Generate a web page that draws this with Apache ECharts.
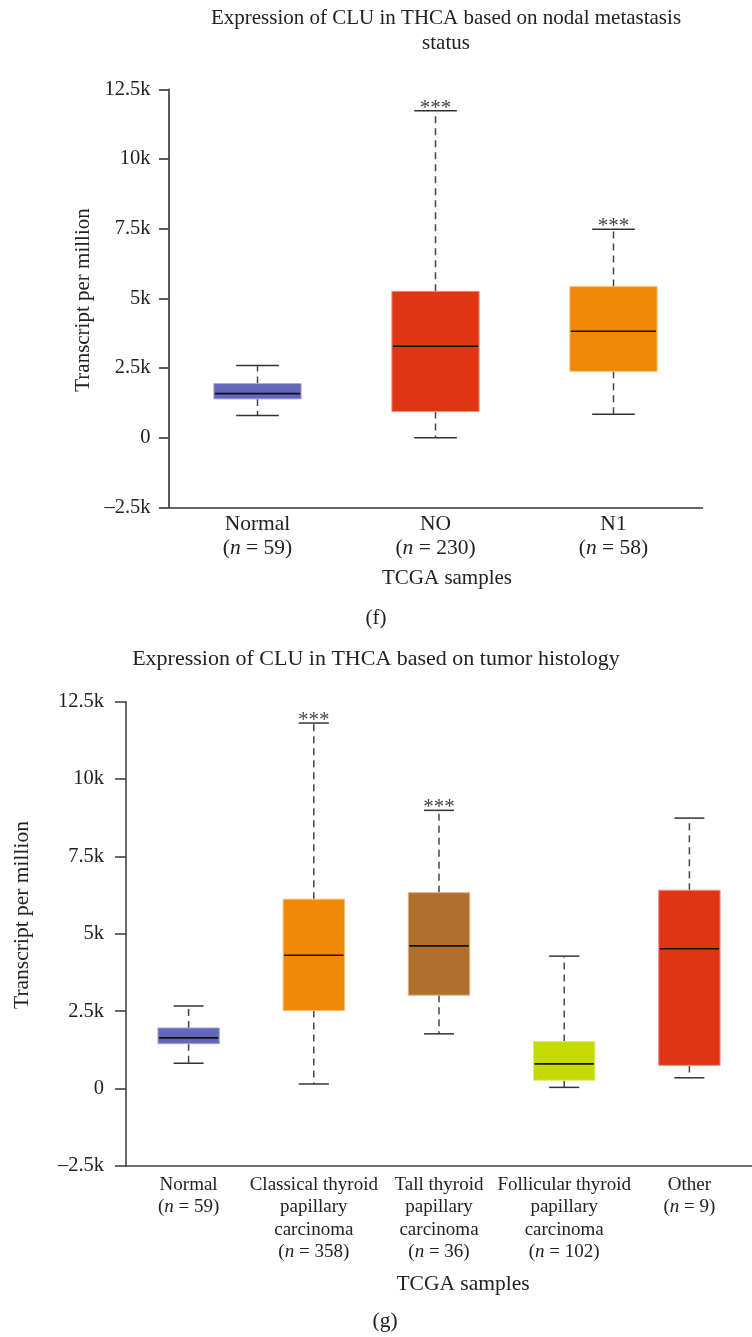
<!DOCTYPE html>
<html>
<head>
<meta charset="utf-8">
<script src="https://cdn.jsdelivr.net/npm/echarts@6/dist/echarts.min.js"></script>
<style>
html,body{margin:0;padding:0;background:#fff;}
#main{width:752px;height:1337px;}
</style>
</head>
<body>
<div id="main"></div>
<script>
// ---- Panel (f): nodal metastasis status ----
const catsF = ['Normal', 'NO', 'N1'];
const nF = [59, 230, 58];
const minF = [790, 0, 840];
const q1F = [1390, 940, 2380];
const medF = [1580, 3280, 3820];
const q3F = [1940, 5250, 5420];
const maxF = [2590, 11730, 7480];
const sigF = ['', '***', '***'];
const colorsF = ['#6367B9', '#E03415', '#EE8805'];

// ---- Panel (g): tumor histology ----
const catsG = ['Normal', 'Classical thyroid\npapillary\ncarcinoma', 'Tall thyroid\npapillary\ncarcinoma', 'Follicular thyroid\npapillary\ncarcinoma', 'Other'];
const nG = [59, 358, 36, 102, 9];
const minG = [820, 150, 1770, 40, 350];
const q1G = [1450, 2520, 3020, 270, 750];
const medG = [1640, 4310, 4610, 800, 4520];
const q3G = [1960, 6120, 6330, 1520, 6410];
const maxG = [2670, 11810, 8990, 4280, 8740];
const sigG = ['', '***', '***', '', ''];
const colorsG = ['#6367B9', '#EE8805', '#B06F2C', '#C5DA00', '#E03515'];

const FONT = '"Liberation Serif", "DejaVu Serif", serif';
const TXT = '#222';

function lighten(hex, t) {
  const r = parseInt(hex.slice(1, 3), 16), g = parseInt(hex.slice(3, 5), 16), b = parseInt(hex.slice(5, 7), 16);
  const f = v => Math.round(v + (255 - v) * t);
  return 'rgb(' + f(r) + ',' + f(g) + ',' + f(b) + ')';
}

function buildData(mins, q1s, meds, q3s, maxs) {
  return mins.map((_, i) => [i, mins[i], q1s[i], meds[i], q3s[i], maxs[i]]);
}

function makeRender(colors, sigs, starSize) {
  return function (params, api) {
    const idx = api.value(0);
    const band = api.size([1, 0])[0];
    const boxW = band * 0.49;
    const capW = band * 0.24;
    const pMin = api.coord([idx, api.value(1)]);
    const pQ1 = api.coord([idx, api.value(2)]);
    const pMed = api.coord([idx, api.value(3)]);
    const pQ3 = api.coord([idx, api.value(4)]);
    const pMax = api.coord([idx, api.value(5)]);
    const x = pMed[0];
    const dashStyle = { stroke: '#444', lineWidth: 1.5, lineDash: [7, 5] };
    const solid = { stroke: '#333', lineWidth: 1.5 };
    const children = [
      { type: 'line', shape: { x1: x, y1: pQ3[1], x2: x, y2: pMax[1] }, style: dashStyle },
      { type: 'line', shape: { x1: x, y1: pQ1[1], x2: x, y2: pMin[1] }, style: dashStyle },
      { type: 'line', shape: { x1: x - capW / 2, y1: pMax[1], x2: x + capW / 2, y2: pMax[1] }, style: solid },
      { type: 'line', shape: { x1: x - capW / 2, y1: pMin[1], x2: x + capW / 2, y2: pMin[1] }, style: solid },
      { type: 'rect', shape: { x: x - boxW / 2, y: pQ3[1], width: boxW, height: pQ1[1] - pQ3[1] },
        style: { fill: colors[idx], stroke: lighten(colors[idx], 0.45), lineWidth: 1 } },
      { type: 'line', shape: { x1: x - boxW / 2 + 1, y1: pMed[1], x2: x + boxW / 2 - 1, y2: pMed[1] },
        style: { stroke: '#111', lineWidth: 1.6 } }
    ];
    if (sigs[idx]) {
      children.push({ type: 'text', x: x, y: pMax[1] + 8,
        style: { text: sigs[idx], fill: '#444', font: starSize + 'px ' + FONT, align: 'center', verticalAlign: 'bottom' } });
    }
    return { type: 'group', children: children };
  };
}

function yLabel(v) {
  if (v === 0) return '0';
  const s = Math.abs(v) / 1000 + 'k';
  return v < 0 ? '\u2013' + s : s;
}

function catLabel(ns) {
  return function (val, idx) {
    return val + '\n({i|n} = ' + ns[idx] + ')';
  };
}

const chart = echarts.init(document.getElementById('main'), null, { renderer: 'canvas' });

const axisLineStyle = { color: '#333', width: 1.6 };

const option = {
  backgroundColor: '#fff',
  animation: false,
  grid: [
    { left: 168.5, top: 89.3, width: 534, height: 418 },
    { left: 126, top: 701.7, width: 636, height: 464.3 }
  ],
  xAxis: [
    {
      gridIndex: 0, type: 'category', data: catsF, boundaryGap: true,
      axisLine: { onZero: false, lineStyle: axisLineStyle }, axisTick: { show: false },
      axisLabel: { interval: 0, margin: 5, color: TXT, fontFamily: FONT, fontSize: 21.5, lineHeight: 24,
        formatter: catLabel(nF),
        rich: { i: { fontStyle: 'italic', fontFamily: FONT, fontSize: 21.5, lineHeight: 24, color: TXT } } }
    },
    {
      gridIndex: 1, type: 'category', data: catsG, boundaryGap: true,
      axisLine: { onZero: false, lineStyle: { color: '#444', width: 1.6 } }, axisTick: { show: false },
      axisLabel: { interval: 0, margin: 8, color: TXT, fontFamily: FONT, fontSize: 19, lineHeight: 22.3,
        formatter: catLabel(nG),
        rich: { i: { fontStyle: 'italic', fontFamily: FONT, fontSize: 19, lineHeight: 22.3, color: TXT } } }
    }
  ],
  yAxis: [
    {
      gridIndex: 0, type: 'value', min: -2500, max: 12500, interval: 2500,
      splitLine: { show: false },
      axisLine: { show: true, onZero: false, lineStyle: axisLineStyle },
      axisTick: { show: true, length: 9.5, lineStyle: axisLineStyle },
      axisLabel: { margin: 18, color: TXT, fontFamily: FONT, fontSize: 20.5, formatter: yLabel }
    },
    {
      gridIndex: 1, type: 'value', min: -2500, max: 12500, interval: 2500,
      splitLine: { show: false },
      axisLine: { show: true, onZero: false, lineStyle: { color: '#444', width: 1.6 } },
      axisTick: { show: true, length: 11, lineStyle: { color: '#444', width: 1.6 } },
      axisLabel: { margin: 22, color: TXT, fontFamily: FONT, fontSize: 20.5, formatter: yLabel }
    }
  ],
  series: [
    {
      type: 'custom', xAxisIndex: 0, yAxisIndex: 0,
      renderItem: makeRender(colorsF, sigF, 21),
      encode: { x: 0, y: [1, 2, 3, 4, 5] },
      data: buildData(minF, q1F, medF, q3F, maxF), clip: false
    },
    {
      type: 'custom', xAxisIndex: 1, yAxisIndex: 1,
      renderItem: makeRender(colorsG, sigG, 21),
      encode: { x: 0, y: [1, 2, 3, 4, 5] },
      data: buildData(minG, q1G, medG, q3G, maxG), clip: false
    }
  ],
  graphic: [
    { type: 'text', x: 446, y: 18, style: { text: 'Expression of CLU in THCA based on nodal metastasis', fill: TXT, font: '21px ' + FONT, align: 'center', verticalAlign: 'middle' } },
    { type: 'text', x: 446, y: 43, style: { text: 'status', fill: TXT, font: '21px ' + FONT, align: 'center', verticalAlign: 'middle' } },
    { type: 'text', x: 83, y: 300, rotation: Math.PI / 2, style: { text: 'Transcript per million', fill: TXT, font: '21px ' + FONT, align: 'center', verticalAlign: 'middle' } },
    { type: 'text', x: 447, y: 578, style: { text: 'TCGA samples', fill: TXT, font: '21px ' + FONT, align: 'center', verticalAlign: 'middle' } },
    { type: 'text', x: 376, y: 618, style: { text: '(f)', fill: TXT, font: '21px ' + FONT, align: 'center', verticalAlign: 'middle' } },

    { type: 'text', x: 376, y: 659, style: { text: 'Expression of CLU in THCA based on tumor histology', fill: TXT, font: '22px ' + FONT, align: 'center', verticalAlign: 'middle' } },
    { type: 'text', x: 22, y: 915, rotation: Math.PI / 2, style: { text: 'Transcript per million', fill: TXT, font: '21.5px ' + FONT, align: 'center', verticalAlign: 'middle' } },
    { type: 'text', x: 463, y: 1284, style: { text: 'TCGA samples', fill: TXT, font: '21.5px ' + FONT, align: 'center', verticalAlign: 'middle' } },
    { type: 'text', x: 385, y: 1321, style: { text: '(g)', fill: TXT, font: '21.5px ' + FONT, align: 'center', verticalAlign: 'middle' } }
  ]
};

chart.setOption(option);
</script>
</body>
</html>
